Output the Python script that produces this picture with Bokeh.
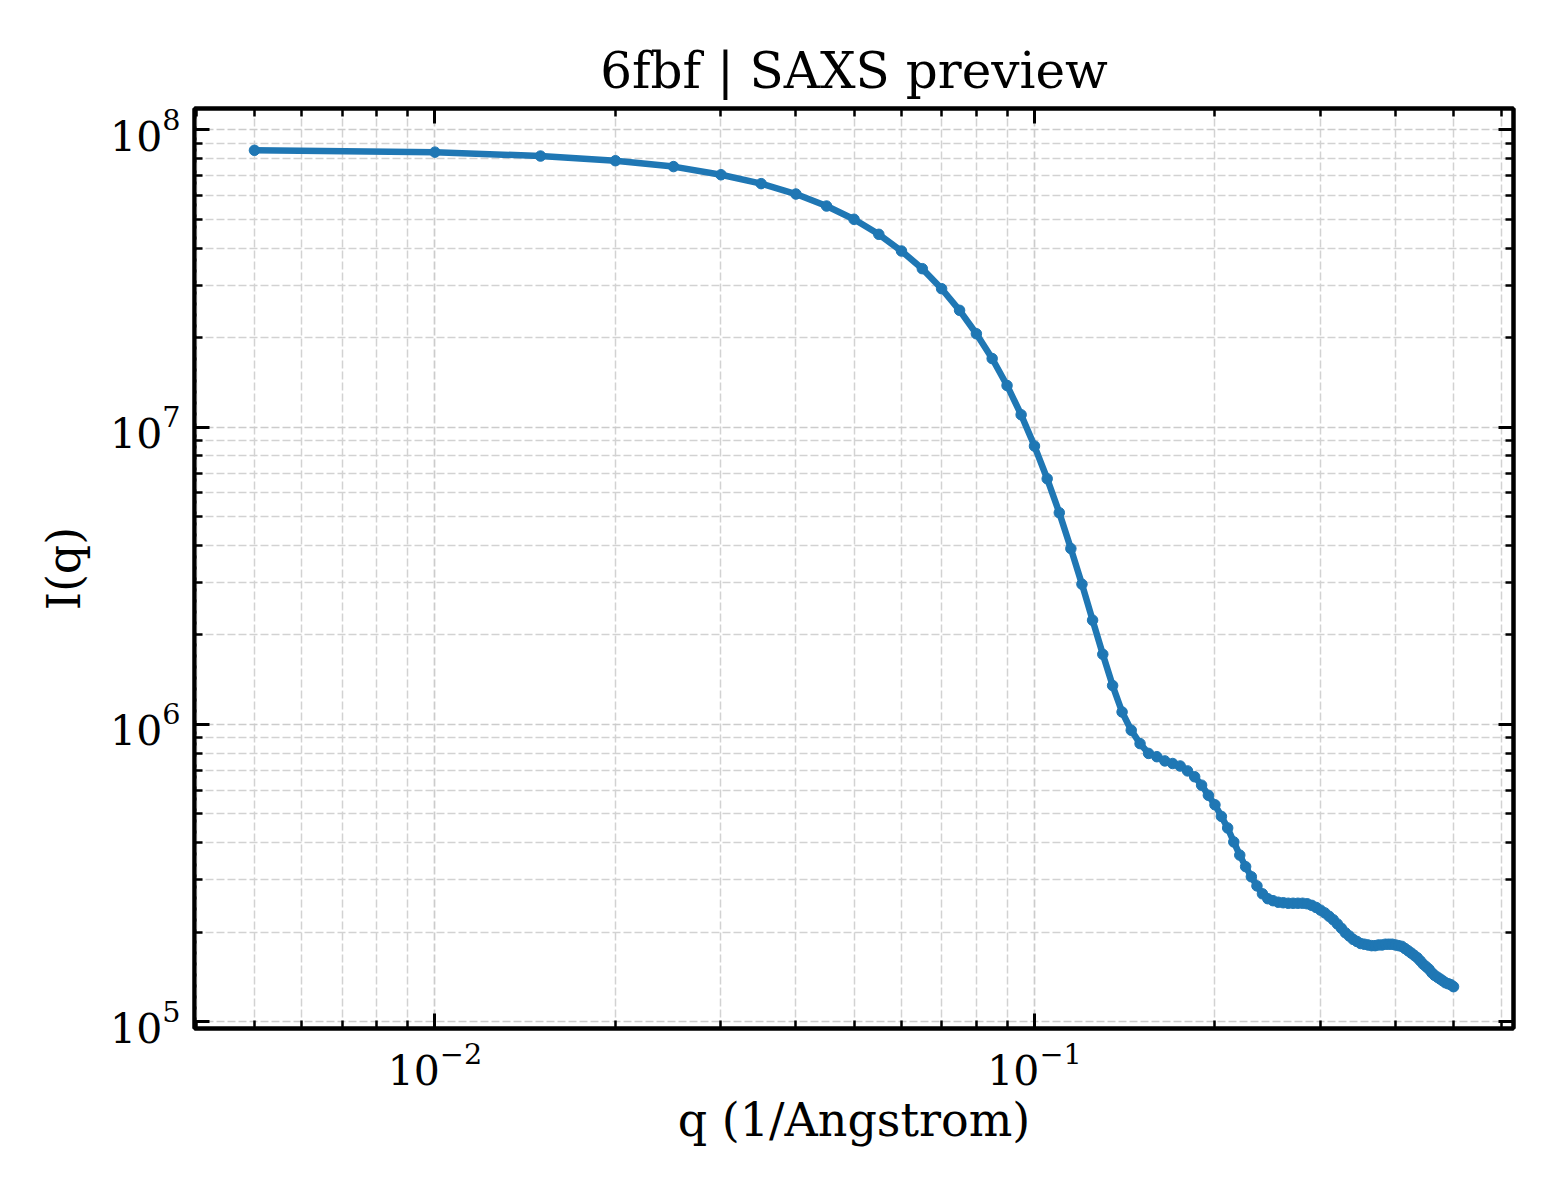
import math
from bokeh.plotting import figure
from bokeh.models import Range1d, FixedTicker, LogAxis, LogTickFormatter, CustomJSTickFormatter
from bokeh.embed import file_html
from bokeh.resources import INLINE

# ---- data ----
q = [0.005, 0.010, 0.015, 0.020, 0.025, 0.030, 0.035, 0.040, 0.045, 0.050,
     0.055, 0.060, 0.065, 0.070, 0.075, 0.080, 0.085, 0.090, 0.095, 0.100,
     0.105, 0.110, 0.115, 0.120, 0.125, 0.130, 0.135, 0.140, 0.145, 0.150,
     0.155, 0.160, 0.165, 0.170, 0.175, 0.180, 0.185, 0.190, 0.195, 0.200,
     0.205, 0.210, 0.215, 0.220, 0.225, 0.230, 0.235, 0.240, 0.245, 0.250,
     0.255, 0.260, 0.265, 0.270, 0.275, 0.280, 0.285, 0.290, 0.295, 0.300,
     0.305, 0.310, 0.315, 0.320, 0.325, 0.330, 0.335, 0.340, 0.345, 0.350,
     0.355, 0.360, 0.365, 0.370, 0.375, 0.380, 0.385, 0.390, 0.395, 0.400,
     0.405, 0.410, 0.415, 0.420, 0.425, 0.430, 0.435, 0.440, 0.445, 0.450,
     0.455, 0.460, 0.465, 0.470, 0.475, 0.480, 0.485, 0.490, 0.495, 0.500]

intensity = [8.53e7, 8.41e7, 8.16e7, 7.87e7, 7.52e7, 7.06e7, 6.59e7, 6.08e7, 5.54e7, 5.00e7,
             4.45e7, 3.91e7, 3.41e7, 2.92e7, 2.47e7, 2.06e7, 1.70e7, 1.38e7, 1.10e7, 8.63e6,
             6.70e6, 5.15e6, 3.90e6, 2.96e6, 2.24e6, 1.72e6, 1.35e6, 1.10e6, 9.55e5, 8.61e5,
             7.98e5, 7.78e5, 7.53e5, 7.38e5, 7.24e5, 6.97e5, 6.66e5, 6.24e5, 5.77e5, 5.36e5,
             4.90e5, 4.48e5, 4.02e5, 3.63e5, 3.32e5, 3.07e5, 2.86e5, 2.69e5, 2.59e5, 2.55e5,
             2.52e5, 2.51e5, 2.50e5, 2.50e5, 2.50e5, 2.50e5, 2.49e5, 2.46e5, 2.42e5, 2.37e5,
             2.32e5, 2.26e5, 2.20e5, 2.13e5, 2.06e5, 1.99e5, 1.94e5, 1.89e5, 1.86e5, 1.83e5,
             1.82e5, 1.81e5, 1.80e5, 1.80e5, 1.81e5, 1.81e5, 1.82e5, 1.82e5, 1.82e5, 1.81e5,
             1.80e5, 1.79e5, 1.76e5, 1.73e5, 1.70e5, 1.67e5, 1.64e5, 1.60e5, 1.56e5, 1.53e5,
             1.50e5, 1.46e5, 1.43e5, 1.41e5, 1.39e5, 1.37e5, 1.35e5, 1.34e5, 1.33e5, 1.31e5]

x_major_ticks = [1e-3, 1e-2, 1e-1, 1e0]
y_major_ticks = [1e4, 1e5, 1e6, 1e7, 1e8, 1e9]
minor_mantissas = [2, 3, 4, 5, 6, 7, 8, 9]

title_text = "6fbf | SAXS preview"
x_label = "q (1/Angstrom)"
y_label = "I(q)"

FONT = "DejaVu Serif"
BLUE = "#1f77b4"


def log_range(vals, frac=0.05):
    lo, hi = math.log10(min(vals)), math.log10(max(vals))
    pad = (hi - lo) * frac
    return Range1d(10 ** (lo - pad), 10 ** (hi + pad))


def minors(majors):
    return [m * t for t in majors[:-1] for m in minor_mantissas]


x_ticker = FixedTicker(ticks=x_major_ticks, minor_ticks=minors(x_major_ticks))
y_ticker = FixedTicker(ticks=y_major_ticks, minor_ticks=minors(y_major_ticks))

p = figure(width=1544, height=1184,
           x_axis_type="log", y_axis_type="log",
           x_range=log_range(q), y_range=log_range(intensity),
           output_backend="svg", toolbar_location=None,
           min_border_left=194, min_border_right=31,
           min_border_top=108, min_border_bottom=156,
           title=title_text)

p.background_fill_color = "white"
p.border_fill_color = "white"
p.outline_line_color = "black"
p.outline_line_width = 4

p.title.text_font = FONT
p.title.text_font_size = "50px"
p.title.text_font_style = "normal"
p.title.align = "center"
p.title.text_color = "black"
p.title.standoff = 18


def style_axis(ax, ticker, labels=True):
    ax.ticker = ticker
    ax.axis_line_color = "black"
    ax.axis_line_width = 4
    ax.major_tick_in = 15
    ax.major_tick_out = 0
    ax.minor_tick_in = 8
    ax.minor_tick_out = 0
    ax.major_tick_line_width = 3
    ax.minor_tick_line_width = 2.5
    ax.major_tick_line_color = "black"
    ax.minor_tick_line_color = "black"
    ax.major_label_text_font = FONT
    ax.major_label_text_font_size = "41px"
    ax.major_label_text_color = "black"
    ax.major_label_standoff = 14
    ax.axis_label_text_font = FONT
    ax.axis_label_text_font_size = "46px"
    ax.axis_label_text_font_style = "normal"
    ax.axis_label_text_color = "black"
    if not labels:
        ax.formatter = CustomJSTickFormatter(code="return ''")
        ax.major_label_standoff = 0


xa = p.xaxis[0]
ya = p.yaxis[0]
style_axis(xa, x_ticker)
style_axis(ya, y_ticker)
xa.formatter = LogTickFormatter()
ya.formatter = LogTickFormatter()
xa.axis_label = x_label
ya.axis_label = y_label
xa.axis_label_standoff = 5
ya.axis_label_standoff = 16

top = LogAxis()
right = LogAxis()
style_axis(top, x_ticker, labels=False)
style_axis(right, y_ticker, labels=False)
p.add_layout(top, "above")
p.add_layout(right, "right")

for g in (p.xgrid[0], p.ygrid[0]):
    g.grid_line_color = "#cccccc"
    g.grid_line_width = 1.7
    g.grid_line_dash = "8 3"
    g.minor_grid_line_color = "#d2d2d2"
    g.minor_grid_line_width = 1.5
    g.minor_grid_line_dash = "8 3"

p.line(q, intensity, line_width=6.5, line_color=BLUE)
p.scatter(q, intensity, size=10.5, fill_color=BLUE, line_color=BLUE)

open("out.html", "w").write(file_html(p, INLINE))
